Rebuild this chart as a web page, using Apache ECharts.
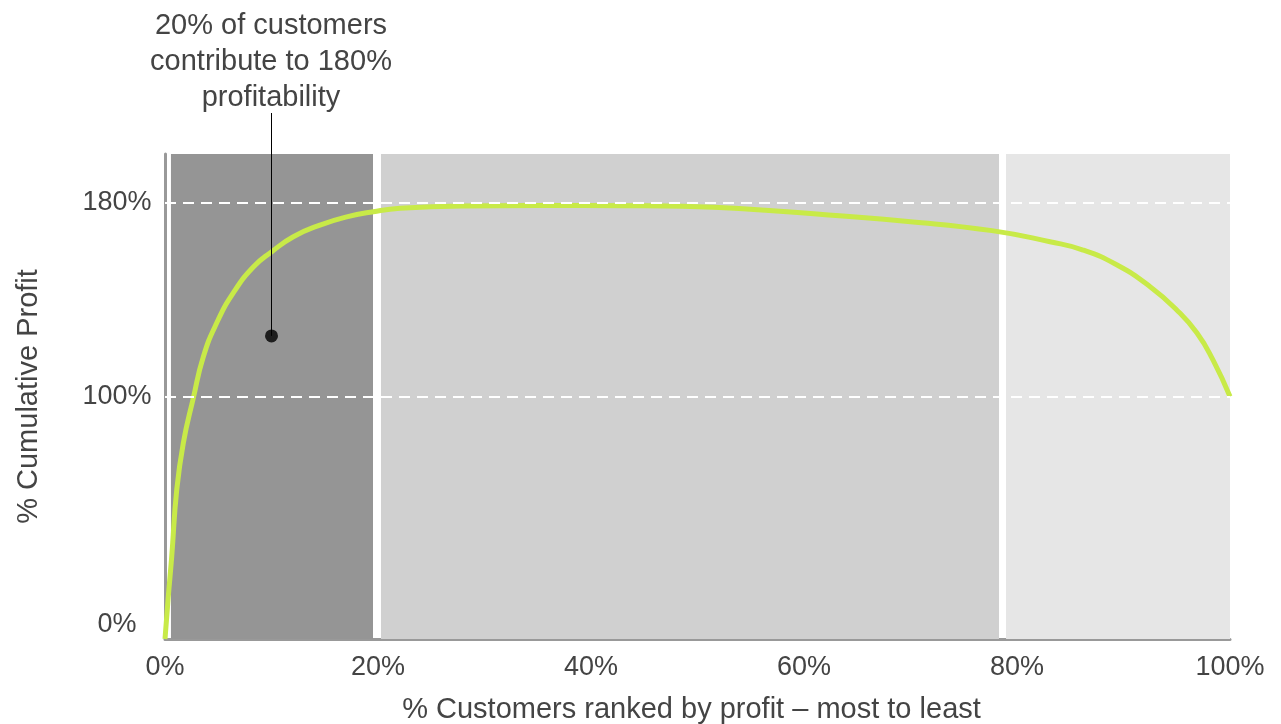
<!DOCTYPE html>
<html>
<head>
<meta charset="utf-8">
<script src="https://cdn.jsdelivr.net/npm/echarts@6/dist/echarts.min.js"></script>
<style>
html,body{margin:0;padding:0;background:#fff;}
#c{width:1281px;height:724px;}
</style>
</head>
<body>
<div id="c"></div>
<script>
// ---- data ----
var curveX = [0, 0.3, 0.63, 1.1, 1.72, 2.66, 3.6, 4.85, 6.41, 8.29, 10.02, 12.05, 14.55, 17.06, 19.56, 22.07, 27.85, 35, 43.2, 47.0, 54.6, 62.3, 70.0, 77.65, 83.1, 86.2, 89.4, 92.5, 95.0, 96.9, 98.4, 100];
var curveY = [0, 17, 33.9, 61.4, 80.8, 99.4, 116.4, 130.3, 142.7, 153.4, 159.7, 165.9, 170.7, 174.1, 176.2, 177.6, 178.6, 178.8, 178.7, 178.6, 177.3, 174.8, 172.1, 168.4, 163.8, 160.4, 154.2, 145.3, 135.7, 126.2, 115.1, 100];
var bandStart = [0.56, 20.28, 78.97];
var bandEnd = [19.53, 78.31, 100];
var bandColors = ['#959595', '#d0d0d0', '#e6e6e6'];
var yTickValues = [0, 100, 180];
var refLines = [100, 180];
var annotationPoint = [10, 125];
var annotationText = '20% of customers\ncontribute to 180%\nprofitability';
var xName = '% Customers ranked by profit \u2013 most to least';
var yName = '% Cumulative Profit';

var FONT = '"Liberation Sans", Arial, sans-serif';
var TXT = '#444444';

var curve = curveX.map(function (x, i) { return [x, curveY[i]]; });
var areas = bandStart.map(function (s, i) {
  return [{ xAxis: s, itemStyle: { color: bandColors[i] } }, { xAxis: bandEnd[i] }];
});

var chart = echarts.init(document.getElementById('c'), null, { renderer: 'canvas' });
chart.setOption({
  animation: false,
  textStyle: { fontFamily: FONT },
  title: {
    text: annotationText,
    left: 271, top: 8, padding: 0,
    textAlign: 'center',
    textStyle: { fontFamily: FONT, fontSize: 29, fontWeight: 'normal', color: TXT, lineHeight: 36 }
  },
  grid: { left: 165, right: 51, top: 154, bottom: 85, containLabel: false, outerBoundsMode: 'none' },
  xAxis: {
    type: 'value', min: 0, max: 100, interval: 20,
    name: xName, nameLocation: 'middle', nameGap: 56,
    nameTextStyle: { fontFamily: FONT, fontSize: 29, color: TXT, padding: [0, 12, 0, 0] },
    axisLine: { show: true, lineStyle: { color: '#999999', width: 3 } },
    axisTick: { show: false },
    splitLine: { show: false },
    axisLabel: { formatter: '{value}%', fontFamily: FONT, fontSize: 27, color: TXT, margin: 15 }
  },
  yAxis: {
    type: 'value', min: 0, max: 200,
    name: yName, nameLocation: 'middle', nameGap: 122,
    nameTextStyle: { fontFamily: FONT, fontSize: 29, color: TXT },
    axisLine: { show: true, lineStyle: { color: '#999999', width: 3 } },
    axisTick: { show: false },
    splitLine: { show: false },
    axisLabel: {
      customValues: yTickValues,
      fontFamily: FONT, fontSize: 27, color: TXT, margin: 48, align: 'center',
      formatter: function (v) { return v === 0 ? '{z|0%}' : v + '%'; },
      rich: { z: { fontFamily: FONT, fontSize: 27, color: TXT, padding: [0, 0, 28, 0] } }
    }
  },
  series: [
    {
      type: 'line', data: [], z: 1, silent: true,
      markArea: { silent: true, itemStyle: { borderWidth: 0 }, data: areas }
    },
    {
      type: 'line', data: [], z: 2, silent: true,
      markLine: {
        silent: true, symbol: ['none', 'none'], label: { show: false },
        lineStyle: { color: '#ffffff', width: 2, type: [11, 7] },
        data: refLines.map(function (v) { return { yAxis: v }; })
      }
    },
    {
      type: 'line', data: curve, z: 3, smooth: 0.5,
      showSymbol: false, symbol: 'none',
      lineStyle: { color: '#c8ea48', width: 5 }
    },
    {
      type: 'scatter', data: [annotationPoint], z: 5, symbolSize: 13,
      itemStyle: { color: '#000000' }
    }
  ]
});

var p = chart.convertToPixel({ gridIndex: 0 }, annotationPoint);
chart.setOption({
  graphic: [{
    type: 'line', z: 4, silent: true,
    shape: { x1: p[0], y1: 113, x2: p[0], y2: p[1] },
    style: { stroke: '#000000', lineWidth: 1 }
  }]
});
</script>
</body>
</html>
